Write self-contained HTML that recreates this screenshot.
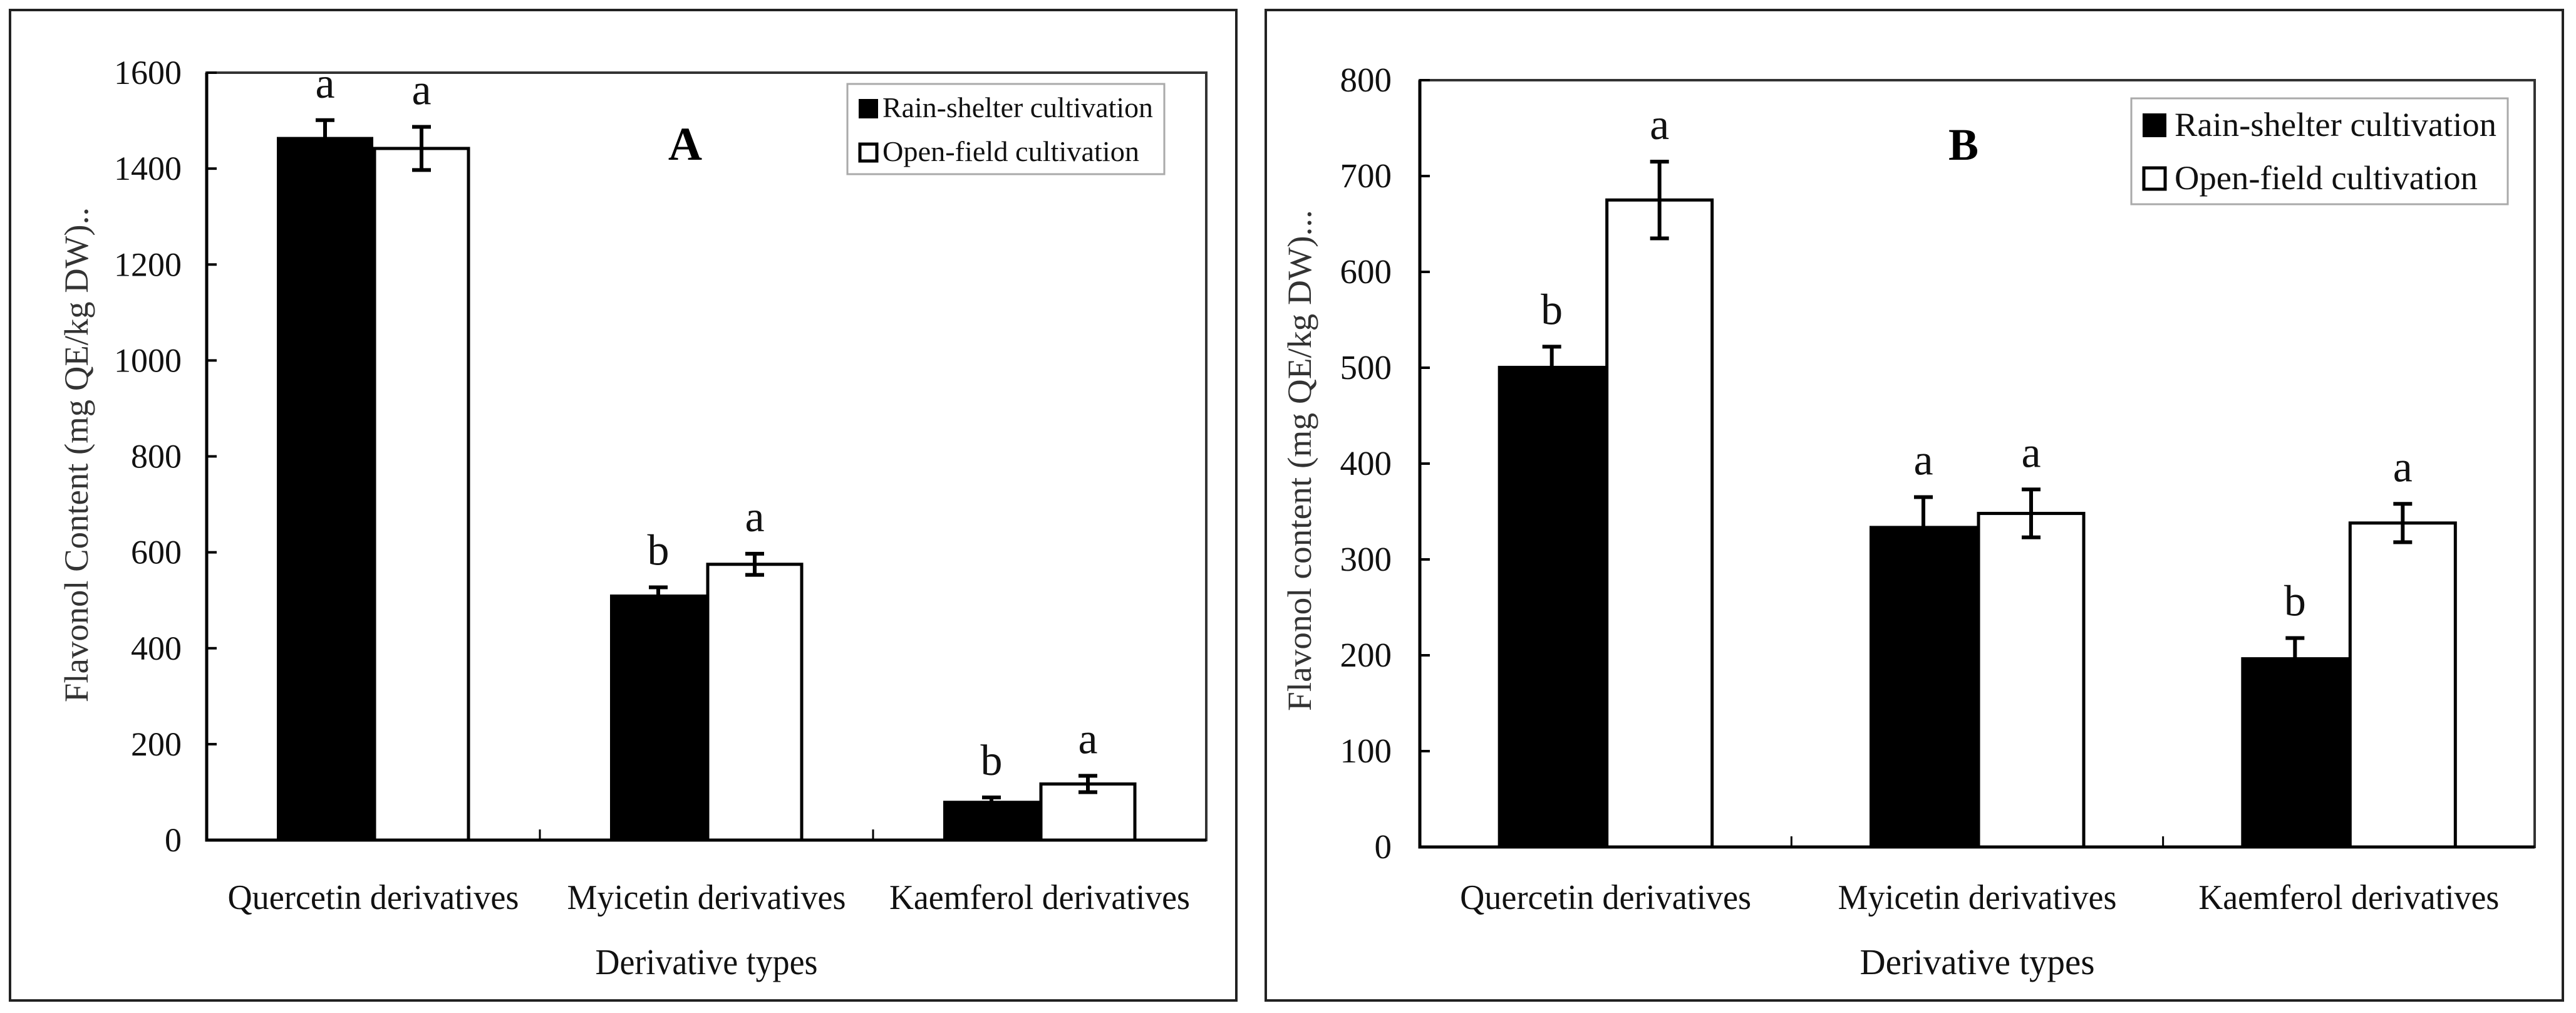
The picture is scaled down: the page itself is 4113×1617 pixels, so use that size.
<!DOCTYPE html>
<html><head><meta charset="utf-8"><style>
html,body{margin:0;padding:0;background:#fff;}
svg{display:block;}
text{font-family:"Liberation Serif",serif;}
</style></head><body>
<svg id="fig" width="4113" height="1617" viewBox="0 0 4113 1617" xmlns="http://www.w3.org/2000/svg"></svg>
<script>
const categories = ["Quercetin derivatives","Myicetin derivatives","Kaemferol derivatives"];
const seriesNames = ["Rain-shelter cultivation","Open-field cultivation"];
// Panel A
const aRain = [1466, 512, 82];
const aOpen = [1442, 575, 117];
const aRainErr = [35, 15, 7];
const aOpenErr = [45, 22, 17];
const aRainLetters = ["a","b","b"];
const aOpenLetters = ["a","a","a"];
const aTicks = [0,200,400,600,800,1000,1200,1400,1600];
// Panel B
const bRain = [502, 335, 198];
const bOpen = [675, 348, 338];
const bRainErr = [20, 30, 20];
const bOpenErr = [40, 25, 20];
const bRainLetters = ["b","a","b"];
const bOpenLetters = ["a","a","a"];
const bTicks = [0,100,200,300,400,500,600,700,800];

const NS = "http://www.w3.org/2000/svg";
const svg = document.getElementById('fig');
function el(tag, attrs, parent, txt){
  const e = document.createElementNS(NS, tag);
  for (const k in attrs) e.setAttribute(k, attrs[k]);
  if (txt !== undefined) e.textContent = txt;
  (parent||svg).appendChild(e);
  return e;
}

function panel(cfg){
  const g = el('g', {});
  
  
  const ob = el('rect', {x:cfg.ox0, y:16, width:cfg.ox1-cfg.ox0, height:1581, fill:'none', stroke:'#222', 'stroke-width':4}, g);
  
  
  const L=cfg.L,R=cfg.R,T=cfg.T,B=cfg.B;
  const y = v => B - (v - 0)/(cfg.max)*(B-T);
  const cw = (R-L)/3;
  const cx = i => L + cw*(i+0.5);
  // frame
  const fr = el('rect', {x:L, y:T, width:R-L, height:B-T, fill:'none', stroke:'#333', 'stroke-width':4}, g);
  
  
  // ticks
  cfg.ticks.forEach(t => {
    const ln = el('line', {x1:L, x2:L+16, y1:y(t), y2:y(t), stroke:'#000', 'stroke-width':4}, g);
    
    
    const tx = el('text', {x:cfg.tickX, y:y(t)+18, 'text-anchor':'end', 'font-size':cfg.tickFont, fill:'#111'}, g, String(t));
    
    
  });
  for (let i=1;i<3;i++){
    const ln = el('line', {x1:L+cw*i, x2:L+cw*i, y1:B, y2:B-17, stroke:'#000', 'stroke-width':3}, g);
    
    
  }
  // bars
  const bw = cfg.bw;
  for (let i=0;i<3;i++){
    const series = [[cfg.rain,cfg.rainErr,cfg.rainL,'#000',-1],[cfg.open,cfg.openErr,cfg.openL,'#fff',0]];
    series.forEach((s,k) => {
      const v = s[0][i], e = s[1][i];
      const x0 = cx(i) + s[4]*bw;
      const r = el('rect', {x:x0+(k?2:0), y:y(v), width:bw-(k?4:0), height:B-y(v), fill:s[3], stroke:'#000', 'stroke-width':k?5:0}, g);
      
      
      const m = x0 + bw/2;
      const eb = el('path', {d:`M${m},${y(v+e)}V${y(v-e)}M${m-15},${y(v+e)}H${m+15}M${m-15},${y(v-e)}H${m+15}`, stroke:'#000', 'stroke-width':6, fill:'none'}, g);
      
      
      const lt = el('text', {x:m, y:y(v+e)-36, 'text-anchor':'middle', 'font-size':70, fill:'#111'}, g, s[2][i]);
      
      
    });
    const cl = el('text', {x:cx(i), y:cfg.catY, 'text-anchor':'middle', 'font-size':56, fill:'#111', textLength:cfg.catLen[i], lengthAdjust:'spacingAndGlyphs'}, g, categories[i]);
    
    
  }
  // axis lines
  const ax = el('path', {d:`M${L},${T}V${B}H${R}`, stroke:'#000', 'stroke-width':5, fill:'none'}, g);
  
  
  const xt = el('text', {x:(L+R)/2, y:1555, 'text-anchor':'middle', 'font-size':58, fill:'#111', textLength:cfg.xtLen, lengthAdjust:'spacingAndGlyphs'}, g, 'Derivative types');
  
  
  const yt = el('text', {x:0, y:0, 'text-anchor':'middle', 'font-size':54, fill:'#333', textLength:cfg.ytLen, lengthAdjust:'spacingAndGlyphs', transform:`translate(${cfg.ytX},${cfg.ytY}) rotate(-90)`}, g, cfg.ytText);
  
  
  const pl = el('text', {x:cfg.labX, y:cfg.labY, 'text-anchor':'middle', 'font-size':cfg.labFont, 'font-weight':'bold', fill:'#000'}, g, cfg.label);
  
  
  // legend
  const lg = el('g', {}, g);
  
  
  const Lg = cfg.leg;
  el('rect', {x:Lg.x, y:Lg.y, width:Lg.w, height:Lg.h, fill:'#fff', stroke:'#aaa', 'stroke-width':3}, lg);
  seriesNames.forEach((n,k) => {
    const by = Lg.y + Lg.sy + k*Lg.dy;
    const sw = el('rect', {x:Lg.x+18+(k?2:0), y:by+(k?2:0), width:Lg.s-(k?4:0), height:Lg.s-(k?4:0), fill:k?'#fff':'#000', stroke:'#000', 'stroke-width':k?5:0}, lg);
    
    
    const t = el('text', {x:Lg.x+Lg.tx, y:by+Lg.s-2, 'font-size':Lg.f, fill:'#111', textLength:Lg.tl[k], lengthAdjust:'spacingAndGlyphs'}, lg, n);
    
    
  });
}

panel({id:'panel-a', ox0:16, ox1:1974, L:330, R:1926, T:116, B:1341, max:1600,
  ticks:aTicks, tickX:290, tickFont:54, bw:154,
  rain:aRain, open:aOpen, rainErr:aRainErr, openErr:aOpenErr, rainL:aRainLetters, openL:aOpenLetters,
  catY:1451, catLen:[465,445,480], xtLen:355,
  ytText:'Flavonol Content (mg QE/kg DW)..', ytX:140, ytY:726, ytLen:790,
  label:'A', labX:1094, labY:255, labFont:75,
  leg:{x:1353,y:134,w:506,h:144,sy:24,dy:70,s:31,tx:56,f:46,tl:[432,410]}});

panel({id:'panel-b', ox0:2021, ox1:4092, L:2267, R:4047, T:128, B:1352, max:800,
  ticks:bTicks, tickX:2222, tickFont:55, bw:172,
  rain:bRain, open:bOpen, rainErr:bRainErr, openErr:bOpenErr, rainL:bRainLetters, openL:bOpenLetters,
  catY:1451, catLen:[465,445,480], xtLen:375,
  ytText:'Flavonol content (mg QE/kg DW)...', ytX:2093, ytY:735, ytLen:800,
  label:'B', labX:3135, labY:255, labFont:72,
  leg:{x:3403,y:157,w:601,h:169,sy:24,dy:85,s:38,tx:69,f:54,tl:[514,484]}});
</script>
</body></html>
